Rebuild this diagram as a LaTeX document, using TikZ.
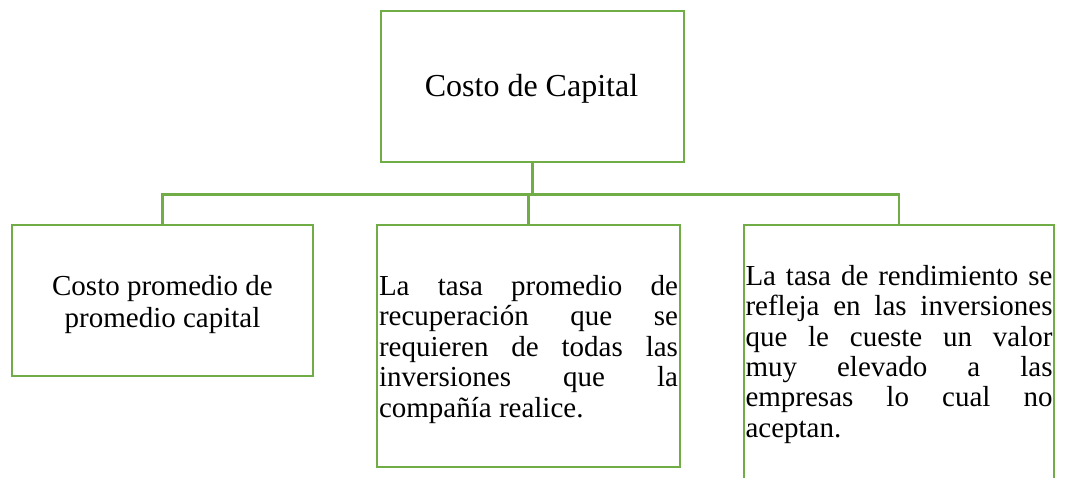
\documentclass[tikz,border=0pt]{standalone}
\usepackage{fontspec}
\setmainfont{Liberation Serif}
\definecolor{grn}{HTML}{70AD47}
\newcommand{\jline}[1]{\hbox to \hsize{#1}}
\begin{document}
\begin{tikzpicture}[x=1pt,y=-1pt,
  box/.style={draw=grn,line width=2.8pt,inner sep=0pt,fill=none},
  conn/.style={draw=grn,line width=2.8pt,line join=miter},
  txt/.style={inner sep=0pt,text=black}]
\clip (0,0) rectangle (1065,477);
\fill[white] (0,0) rectangle (1065,477);
% boxes
\node[box,minimum width=303pt,minimum height=151pt] (top) at (532.5,86.5) {};
\node[box,minimum width=301pt,minimum height=151pt] (b1) at (162.5,300.5) {};
\node[box,minimum width=303pt,minimum height=242pt] (b2) at (528.5,346) {};
\node[box,minimum width=310pt,minimum height=290pt] (b3) at (899,370) {};
% texts
\node[txt] (t0) at (531.5,89.2) {\fontsize{32}{38}\selectfont Costo de Capital};
\node[txt] (t1) at (162.5,304.2) {\parbox{290pt}{\centering\fontsize{29}{32}\selectfont Costo promedio de\\promedio capital}};
\node[txt] (t2) at (528.5,349.2) {\parbox{299pt}{\fontsize{29}{30.5}\selectfont\setlength{\baselineskip}{30.5pt}%
\jline{La\hfill tasa\hfill promedio\hfill de}
\jline{recuperación\hfill que\hfill se}
\jline{requieren\hfill de\hfill todas\hfill las}
\jline{inversiones\hfill que\hfill la}
\hbox{compañía realice.}}};
\node[txt] (t3) at (899,354.3) {\parbox{307pt}{\fontsize{29}{30.4}\selectfont\setlength{\baselineskip}{30.4pt}%
\jline{La\hfill tasa\hfill de\hfill rendimiento\hfill se}
\jline{refleja\hfill en\hfill las\hfill inversiones}
\jline{que\hfill le\hfill cueste\hfill un\hfill valor}
\jline{muy\hfill elevado\hfill a\hfill las}
\jline{empresas\hfill lo\hfill cual\hfill no}
\hbox{aceptan.}}};
% connectors
\path (top.south) ++(0,31) coordinate (bus);
\draw[conn] (top.south) -- (bus);
\draw[conn] (b1.north) -- (b1.north |- bus) -- (b3.north |- bus) -- (b3.north);
\draw[conn] (b2.north) -- (b2.north |- bus);
\end{tikzpicture}
\end{document}
